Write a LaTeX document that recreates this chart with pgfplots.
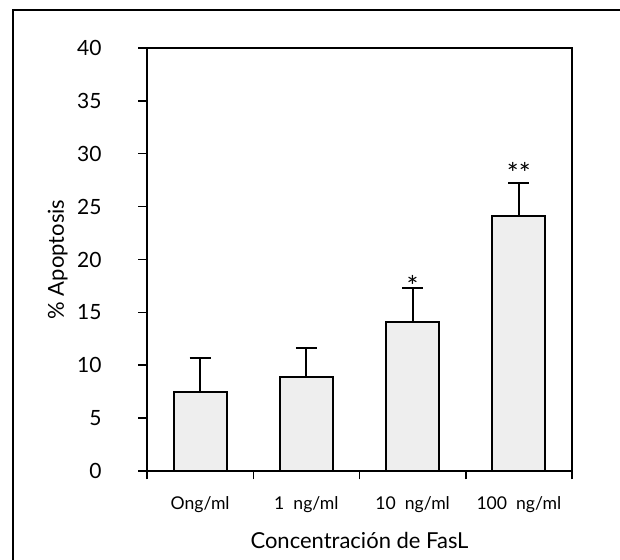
\documentclass[border=0pt]{standalone}
\usepackage{fontspec}
\setmainfont{Lato}
\usepackage{pgfplots}
\pgfplotsset{compat=1.18}
\definecolor{barfill}{HTML}{EEEEEE}
\begin{document}
\begin{tikzpicture}
\useasboundingbox (0,0) rectangle (310pt,280pt);
\draw[line width=0.75pt] (6.5pt,-2pt) -- (6.5pt,275pt) -- (312pt,275pt);
\begin{axis}[
  at={(73.5pt,44.5pt)}, anchor=south west,
  scale only axis, width=212.5pt, height=211.5pt,
  xmin=0, xmax=4, ymin=0, ymax=40,
  ybar, bar width=0.5,
  ytick={0,5,...,40},
  xtick={0,1,2,3,4},
  xticklabels={,,,,},
  extra x ticks={0.5,1.5,2.5,3.5},
  extra x tick labels={Ong/ml,1\ \ ng/ml,10\ \ ng/ml,100\ \ ng/ml},
  extra x tick style={tick style={draw=none}},
  tick align=outside,
  xtick pos=bottom, ytick pos=left,
  major tick length=4.25pt,
  axis line style={line width=1pt},
  tick style={line width=0.75pt, black},
  /pgf/number format/assume math mode=true,
  yticklabel style={font=\fontsize{10.5}{12}\selectfont, anchor=east, xshift=-15pt},
  xticklabel style={font=\fontsize{8.8}{10}\selectfont, anchor=center, yshift=-12.5pt, text height=1.4ex, text depth=0.4ex},
  xlabel={Concentración de FasL},
  ylabel={\% Apoptosis},
  xlabel style={font=\fontsize{11}{13}\selectfont, at={(axis description cs:0.5,-0.165)}, anchor=center},
  ylabel style={font=\fontsize{11}{13}\selectfont, at={(axis description cs:-0.21,0.5)}, anchor=center},
  clip=false,
]
\addplot[fill=barfill, draw=black, line width=1pt,
  error bars/.cd, y dir=plus, y explicit,
  error bar style={line width=1pt, black},
  error mark options={rotate=90, line width=1pt, mark size=5.25pt, black}]
  coordinates {
  (0.5,7.45) +- (0,3.2)
  (1.5,8.92) +- (0,2.7)
  (2.5,14.1) +- (0,3.2)
  (3.5,24.1) +- (0,3.1)
  };
\node[font=\fontsize{14}{15}\selectfont, anchor=center] at (axis cs:2.5,17.5) {*};
\node[font=\fontsize{14}{15}\selectfont, anchor=center] at (axis cs:3.5,28.2) {**};
\end{axis}
\end{tikzpicture}
\end{document}
